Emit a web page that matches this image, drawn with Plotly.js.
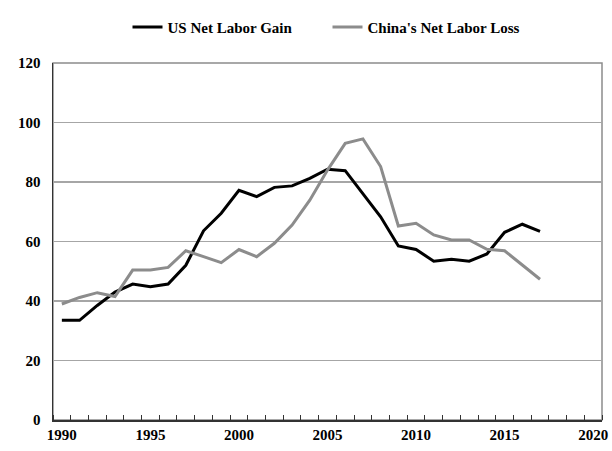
<!DOCTYPE html>
<html>
<head>
<meta charset="utf-8">
<script src="https://cdn.plot.ly/plotly-3.0.1.min.js"></script>
<style>
  html, body { margin: 0; padding: 0; background: #fff; }
  #chart { width: 612px; height: 451px; }
</style>
</head>
<body>
<div id="chart"></div>
<script>
// values
var years = [1990, 1991, 1992, 1993, 1994, 1995, 1996, 1997, 1998, 1999,
             2000, 2001, 2002, 2003, 2004, 2005, 2006, 2007, 2008, 2009,
             2010, 2011, 2012, 2013, 2014, 2015, 2016, 2017];
var usGain = [33.5, 33.5, 38.5, 43.0, 45.7, 44.8, 45.7, 52.0, 63.6, 69.5,
              77.2, 75.1, 78.2, 78.7, 81.2, 84.3, 83.8, 76.0, 68.3, 58.5,
              57.3, 53.4, 54.0, 53.4, 55.8, 63.1, 65.8, 63.4];
var chinaLoss = [39.0, 41.2, 42.8, 41.5, 50.4, 50.4, 51.3, 56.9, 54.9, 52.9,
                 57.3, 54.9, 59.4, 65.5, 73.9, 84.0, 93.0, 94.5, 85.2, 65.2,
                 66.1, 62.2, 60.5, 60.5, 57.4, 56.9, 52.1, 47.3];
var xTicks = [1990, 1995, 2000, 2005, 2010, 2015, 2020];
var yTicks = [0, 20, 40, 60, 80, 100, 120];

var labelFont = { family: "Liberation Serif, Times New Roman, serif", size: 15, color: "#000", weight: "bold" };

var traces = [
    {
        x: years, y: usGain, name: "US Net Labor Gain",
        type: "scatter", mode: "lines",
        line: { color: "#000000", width: 3 }
    },
    {
        x: years, y: chinaLoss, name: "China's Net Labor Loss",
        type: "scatter", mode: "lines",
        line: { color: "#8c8c8c", width: 3 }
    }
];

var layout = {
    width: 612, height: 451,
    margin: { l: 53, r: 10, t: 63, b: 31 },
    paper_bgcolor: "#fff", plot_bgcolor: "#fff",
    showlegend: true,
    legend: {
        orientation: "h", x: 0.5, xanchor: "center", y: 1.1, yanchor: "middle",
        font: labelFont, bgcolor: "rgba(0,0,0,0)", entrywidth: 155
    },
    xaxis: {
        range: [1989.5, 2020.5],
        tickvals: xTicks, ticktext: xTicks.map(String),
        ticks: "", showgrid: false, zeroline: false,
        showline: true, linecolor: "#333", linewidth: 1.5,
        tickfont: labelFont,
        minor: { tick0: 1989.5, dtick: 1, ticks: "inside", ticklen: 5, tickcolor: "#333", showgrid: false }
    },
    yaxis: {
        range: [0, 120],
        tickvals: yTicks, ticktext: yTicks.map(String),
        ticks: "", showgrid: true, gridcolor: "#a6a6a6", gridwidth: 1.5,
        zeroline: false, showline: true, linecolor: "#333", linewidth: 1.5,
        tickfont: labelFont, ticklabelstandoff: 8
    },
    shapes: [
        { type: "rect", xref: "paper", yref: "paper", x0: 0, x1: 1, y0: 0, y1: 1,
          line: { color: "#8c8c8c", width: 1.5 }, layer: "below" }
    ]
};

Plotly.newPlot("chart", traces, layout, { displayModeBar: false, staticPlot: true });
</script>
</body>
</html>
